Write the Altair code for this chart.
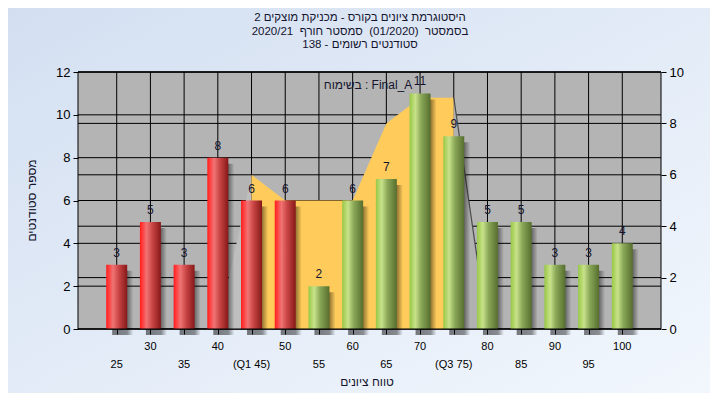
import altair as alt
import pandas as pd

# ---------------- data ----------------
scores = [25, 30, 35, 40, 45, 50, 55, 60, 65, 70, 75, 80, 85, 90, 95, 100]
counts = [3, 5, 3, 8, 6, 6, 2, 6, 7, 11, 9, 5, 5, 3, 3, 4]
tick_labels = ["25", "30", "35", "40", "(Q1 45)", "50", "55", "60", "65", "70",
               "(Q3 75)", "80", "85", "90", "95", "100"]
pass_mark = 55

area_x = [40, 45, 50, 55, 60, 65, 70, 75, 80]
area_y = [0, 6, 5, 5, 5, 8, 9, 9, 0]
q1, q3 = 45, 75

left_ticks = [0, 2, 4, 6, 8, 10, 12]
right_ticks = [0, 2, 4, 6, 8, 10]

title_lines = [
    "היסטוגרמת ציונים בקורס - מכניקת מוצקים 2",
    "בסמסטר \u00a0(01/2020) \u00a0סמסטר חורף \u00a02020/21",
    "סטודנטים רשומים - 138",
]
y_title = "מספר סטודנטים"
x_title = "טווח ציונים"
note = "בשימוח : Final_A"

# ---------------- layout / style ----------------
W, H = 583, 257
FONT = "Liberation Sans"
TXT = "#14142e"

bars_df = pd.DataFrame({
    "score": scores,
    "count": counts,
    "label": tick_labels,
    "row": [2 if i % 2 == 0 else 1 for i in range(len(scores))],
    "group": ["fail" if s < pass_mark else "pass" for s in scores],
})

seg_rows = []
for xv, yv in zip(area_x, area_y):
    if xv <= q1:
        seg_rows.append({"ax": xv, "av": yv, "seg": "L"})
    if q1 <= xv <= q3:
        seg_rows.append({"ax": xv, "av": yv, "seg": "M"})
    if xv >= q3:
        seg_rows.append({"ax": xv, "av": yv, "seg": "R"})
area_df = pd.DataFrame(seg_rows)

left_df = pd.DataFrame({"v": left_ticks})
right_df = pd.DataFrame({"v": right_ticks})
one = pd.DataFrame({"k": [0]})

x_scale = alt.Scale(domain=[20, 105], nice=False, zero=False)
x_axis = alt.Axis(values=scores, labels=False, ticks=True, tickSize=5, tickColor="black",
                  domain=False, grid=False, title=None, zindex=1)
yl_scale = alt.Scale(domain=[0, 12], nice=False)
yr_scale = alt.Scale(domain=[0, 10], nice=False)
left_axis = alt.Axis(orient="left", values=left_ticks, tickSize=5, tickColor="black",
                     labelPadding=3, labelFontSize=13, labelColor="black", labelFont=FONT,
                     domain=False, grid=False, title=None, zindex=1)
right_axis = alt.Axis(orient="right", values=right_ticks, tickSize=5, tickColor="black",
                      labelPadding=3, labelFontSize=13, labelColor="black", labelFont=FONT,
                      domain=False, grid=False, title=None, zindex=1)


def X(field):
    return alt.X(field, type="quantitative", scale=x_scale, axis=x_axis, title=None)


page_grad = alt.LinearGradient(
    gradient="linear", x1=0, y1=0, x2=1, y2=1,
    stops=[alt.GradientStop(offset=0, color="#d3dff1"),
           alt.GradientStop(offset=1, color="#f2f7fd")])
red_grad = alt.LinearGradient(
    gradient="linear", x1=0, y1=0, x2=1, y2=0,
    stops=[alt.GradientStop(offset=0, color="#ff1c1c"),
           alt.GradientStop(offset=0.12, color="#ff3c3c"),
           alt.GradientStop(offset=0.32, color="#f07474"),
           alt.GradientStop(offset=0.6, color="#c84444"),
           alt.GradientStop(offset=1, color="#861818")])
green_grad = alt.LinearGradient(
    gradient="linear", x1=0, y1=0, x2=1, y2=0,
    stops=[alt.GradientStop(offset=0, color="#98c846"),
           alt.GradientStop(offset=0.28, color="#c8e28a"),
           alt.GradientStop(offset=0.55, color="#8aa858"),
           alt.GradientStop(offset=1, color="#566e2e")])
shadow_grad = alt.LinearGradient(
    gradient="linear", x1=0, y1=0, x2=1, y2=0,
    stops=[alt.GradientStop(offset=0, color="rgba(0,0,0,0.5)"),
           alt.GradientStop(offset=0.72, color="rgba(0,0,0,0.42)"),
           alt.GradientStop(offset=1, color="rgba(0,0,0,0)")])

# ---------------- layer group 1: backgrounds + left-scale grid ----------------
page_bg = alt.Chart(one).mark_rect(color=page_grad).encode(
    x=alt.value(-70), x2=alt.value(W + 49), y=alt.value(-64), y2=alt.value(H + 64))
plot_bg = alt.Chart(one).mark_rect(color="#b4b4b4").encode(
    x=alt.value(0), x2=alt.value(W), y=alt.value(0), y2=alt.value(H))
left_grid = alt.Chart(left_df).mark_rule(color="black", strokeWidth=1).encode(
    y=alt.Y("v:Q", scale=yl_scale, axis=left_axis), x=alt.value(0), x2=alt.value(W))
x_grid = alt.Chart(bars_df).mark_rule(color="black", strokeWidth=1).encode(
    x=X("score"), y=alt.value(0), y2=alt.value(H))
g1 = alt.layer(page_bg, plot_bg, left_grid, x_grid)

# ---------------- layer group 2: right-scale grid + area ----------------
Ya = alt.Y("av:Q", scale=yr_scale, axis=right_axis, stack=False)
right_grid = alt.Chart(right_df).mark_rule(color="black", strokeWidth=1).encode(
    y=alt.Y("v:Q", scale=yr_scale, axis=right_axis), x=alt.value(0), x2=alt.value(W))


def seg_area(seg, colour):
    return alt.Chart(area_df).transform_filter(alt.datum.seg == seg).mark_area(
        color=colour, opacity=1, interpolate="linear").encode(x=X("ax"), y=Ya)


area_l = seg_area("L", "#bebebe")
area_m = seg_area("M", "#ffcb5a")
area_r = seg_area("R", "#b1b1b1")
edge = alt.Chart(area_df).transform_filter(alt.datum.seg == "R").mark_line(
    color="#4a4a4a", strokeWidth=1.2).encode(x=X("ax"), y=Ya)
g2 = alt.layer(right_grid, area_l, area_m, area_r, edge)

# ---------------- layer group 3: bars, labels, texts ----------------
Yc = alt.Y("count:Q", scale=yl_scale, axis=None)
shadow = alt.Chart(bars_df).mark_bar(size=21, xOffset=6, yOffset=6, y2Offset=5,
                                     color=shadow_grad).encode(x=X("score"), y=Yc)
red_bars = alt.Chart(bars_df).transform_filter(alt.datum.group == "fail").mark_bar(
    size=21, color=red_grad).encode(x=X("score"), y=Yc)
green_bars = alt.Chart(bars_df).transform_filter(alt.datum.group == "pass").mark_bar(
    size=21, color=green_grad).encode(x=X("score"), y=Yc)
values = alt.Chart(bars_df).mark_text(dy=-12, fontSize=12, font=FONT, color=TXT,
                                      baseline="middle").encode(
    x=X("score"), y=Yc, text="count:Q")
border = alt.Chart(one).mark_rect(fillOpacity=0, stroke="black", strokeWidth=1).encode(
    x=alt.value(0), x2=alt.value(W), y=alt.value(0), y2=alt.value(H))
lab_row1 = alt.Chart(bars_df).transform_filter(alt.datum.row == 1).mark_text(
    fontSize=11, font=FONT, color="black", baseline="middle").encode(
    x=X("score"), y=alt.value(H + 18), text="label:N")
lab_row2 = alt.Chart(bars_df).transform_filter(alt.datum.row == 2).mark_text(
    fontSize=11, font=FONT, color="black", baseline="middle").encode(
    x=X("score"), y=alt.value(H + 36), text="label:N")
title = alt.Chart(one).mark_text(fontSize=11.5, font=FONT, color=TXT, baseline="top",
                                 lineHeight=13.5).encode(
    x=alt.value(282), y=alt.value(-60), text=alt.value(title_lines))
note_t = alt.Chart(one).mark_text(fontSize=12, font=FONT, color=TXT,
                                  baseline="middle").encode(
    x=alt.value(290), y=alt.value(13), text=alt.value(note))
xt = alt.Chart(one).mark_text(fontSize=12, font=FONT, color=TXT, baseline="middle").encode(
    x=alt.value(289), y=alt.value(H + 53), text=alt.value(x_title))
yt = alt.Chart(one).mark_text(fontSize=12, font=FONT, color=TXT, baseline="middle",
                              angle=270).encode(
    x=alt.value(-46), y=alt.value(H / 2), text=alt.value(y_title))
g3 = alt.layer(shadow, red_bars, green_bars, values, border,
               lab_row1, lab_row2, title, note_t, xt, yt)

chart = alt.layer(g1, g2, g3).resolve_scale(y="independent").properties(
    width=W, height=H, autosize="none",
    padding={"left": 70, "top": 64, "right": 49, "bottom": 64},
    background="#e6eef9",
).configure_view(strokeWidth=0)

chart.save("out.html", embed_options={"renderer": "svg", "actions": False})
